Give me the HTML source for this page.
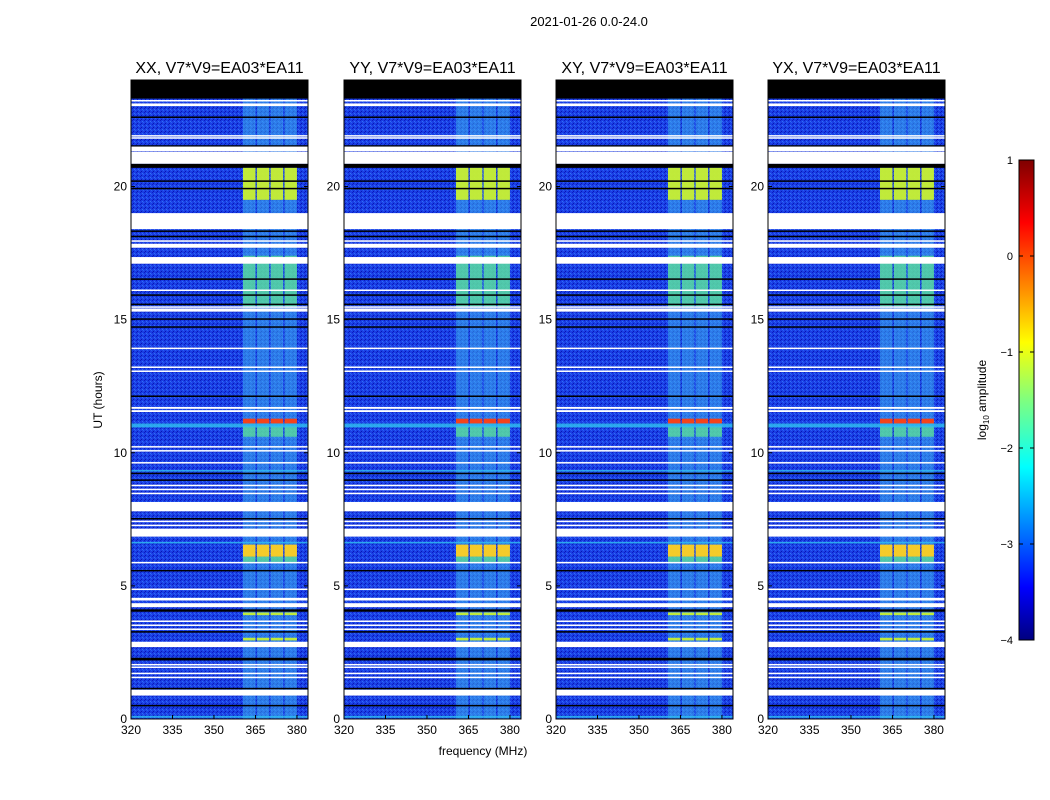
<!DOCTYPE html>
<html><head><meta charset="utf-8"><style>
body{margin:0;background:#fff;}
svg{display:block;font-family:"Liberation Sans",sans-serif;}
</style></head><body>
<svg id="fig" width="1050" height="800" viewBox="0 0 1050 800" xmlns="http://www.w3.org/2000/svg">
<defs>
<linearGradient id="jet" x1="0" y1="1" x2="0" y2="0">
<stop offset="0" stop-color="#00007f"/><stop offset="0.11" stop-color="#0000ff"/>
<stop offset="0.36" stop-color="#00ffff"/><stop offset="0.5" stop-color="#7fff7f"/>
<stop offset="0.62" stop-color="#ffff00"/><stop offset="0.87" stop-color="#ff0000"/>
<stop offset="1" stop-color="#7f0000"/></linearGradient>
<pattern id="dots" width="4" height="4" patternUnits="userSpaceOnUse">
<rect x="0" y="0" width="1" height="1" fill="#0a20c0"/><rect x="2" y="1" width="1" height="1" fill="#3070f0"/>
<rect x="1" y="3" width="1" height="1" fill="#0818b0"/><rect x="3" y="2" width="1" height="1" fill="#2860f0"/>
</pattern>
</defs>
<text x="589" y="26" text-anchor="middle" font-size="13">2021-01-26 0.0-24.0</text>
<text x="483" y="755" text-anchor="middle" font-size="12">frequency (MHz)</text>
<text transform="translate(102,400) rotate(-90)" text-anchor="middle" font-size="12">UT (hours)</text>
<g id="panels"></g>
<g>
<rect x="1019" y="160" width="15" height="480" fill="url(#jet)" stroke="#000" stroke-width="1"/>
<g id="cbticks"></g>
<text transform="translate(986,400) rotate(-90)" text-anchor="middle" font-size="12">log<tspan font-size="8" dy="3">10</tspan><tspan dy="-3"> amplitude</tspan></text>
</g>
</svg>
<script>
const titles=["XX, V7*V9=EA03*EA11","YY, V7*V9=EA03*EA11","XY, V7*V9=EA03*EA11","YX, V7*V9=EA03*EA11"];
const xTicks=[320,335,350,365,380];
const yTicks=[0,5,10,15,20];
const cbTicks=[1,0,-1,-2,-3,-4];
const channels=[[360.5,365],[365.5,370],[370.5,375],[375.5,380]];
// rows: [startHour, endHour, type]
const rows=[
[23.3,24,"k"],[23.02,23.12,"w"],[23.2,23.25,"w"],[22.58,22.63,"k"],[21.88,21.93,"w"],[21.82,21.85,"w"],
[21.5,21.55,"k"],[21.32,21.5,"w"],[20.85,21.3,"w"],[20.7,20.85,"k"],
[19.5,20.7,"y"],[20.18,20.23,"k"],[19.9,19.95,"k"],
[18.4,19.0,"w"],[18.3,18.35,"k"],[18.1,18.15,"k"],[17.95,17.98,"w"],[17.7,17.85,"w"],
[15.5,17.4,"g"],[17.1,17.35,"w"],[16.5,16.55,"k"],[16.1,16.13,"w"],[15.9,15.95,"k"],[15.55,15.6,"k"],
[15.45,15.5,"w"],[15.3,15.42,"w"],[15.0,15.05,"k"],[14.7,14.75,"k"],[13.9,13.95,"w"],
[13.2,13.24,"w"],[13.05,13.09,"w"],[12.1,12.15,"k"],
[11.65,11.72,"w"],[11.53,11.6,"w"],[10.6,11.0,"g"],[11.1,11.28,"r"],[10.95,11.1,"c"],
[10.2,10.25,"w"],[10.05,10.1,"w"],[9.6,9.65,"w"],[9.3,9.35,"c"],[9.2,9.25,"k"],[8.95,9.0,"k"],
[8.75,8.8,"w"],[8.6,8.65,"w"],[8.45,8.5,"w"],[7.8,8.15,"w"],[7.5,7.55,"k"],[7.4,7.45,"w"],[7.25,7.3,"w"],
[6.85,7.15,"w"],[6.6,6.65,"c"],[5.9,6.1,"g"],[6.1,6.55,"o"],[5.85,5.9,"w"],[5.55,5.6,"k"],[4.85,4.9,"w"],
[4.45,4.55,"w"],[4.2,4.35,"w"],[4.03,4.12,"k"],[3.9,4.0,"y"],[3.65,3.7,"w"],[3.5,3.55,"w"],[3.35,3.4,"w"],
[3.25,3.3,"k"],[2.95,3.05,"y"],[2.7,2.9,"w"],[2.2,2.3,"k"],[2.03,2.07,"w"],[1.93,1.97,"w"],
[1.7,1.74,"w"],[1.55,1.59,"w"],[1.12,1.17,"k"],[0.88,1.1,"w"],[0.48,0.53,"k"],[0.05,0.12,"c"]
];
const NS="http://www.w3.org/2000/svg";
const lefts=[131,344,556,768], PW=177, TOP=80, BOT=719;
function mk(tag,attrs,parent){const e=document.createElementNS(NS,tag);for(const k in attrs)e.setAttribute(k,attrs[k]);parent.appendChild(e);return e;}
const root=document.getElementById('panels');
const colors={w:"#ffffff",k:"#000000",y:"#c8f030",g:"#60e890",r:"#ff4010",o:"#ffd020",c:"#30c0f0"};
lefts.forEach((L,pi)=>{
  const xs=f=>L+(f-320)*(PW/(384-320));
  const ys=h=>BOT-(h/24)*(BOT-TOP);
  const g=mk('g',{},root);
  
  
  mk('rect',{x:L,y:TOP,width:PW,height:BOT-TOP,fill:"#1a3ee6"},g);
  mk('rect',{x:L,y:TOP,width:PW,height:BOT-TOP,fill:"url(#dots)"},g);
  channels.forEach(c=>{mk('rect',{x:xs(c[0]),y:TOP,width:xs(c[1])-xs(c[0]),height:BOT-TOP,fill:"#40b8f0",opacity:0.5},g);});
  rows.forEach(r=>{
    const y0=ys(r[1]),h=Math.max(ys(r[0])-y0,1.5),t=r[2];
    if(t==="w"||t==="k"){const e=mk('rect',{x:L,y:y0,width:PW,height:h,fill:colors[t]},g);
      }
    else if(t==="c"){const e=mk('rect',{x:L,y:y0,width:PW,height:h,fill:colors.c,opacity:0.8},g);
      }
    else{channels.forEach(c=>{const e=mk('rect',{x:xs(c[0]),y:y0,width:xs(c[1])-xs(c[0]),height:h,fill:colors[t],opacity:t==="g"?0.7:0.95},g);
      });}
  });
  mk('rect',{x:L,y:TOP,width:PW,height:BOT-TOP,fill:"none",stroke:"#000","stroke-width":1},g);
  const t=mk('text',{x:L+PW/2,y:TOP-7,"text-anchor":"middle","font-size":16},g);
  t.textContent=titles[pi];
  xTicks.forEach(v=>{const x=xs(v);mk('line',{x1:x,x2:x,y1:BOT,y2:BOT-4,stroke:"#000"},g);mk('line',{x1:x,x2:x,y1:TOP,y2:TOP+4,stroke:"#000"},g);
    const tx=mk('text',{x:x,y:BOT+15,"text-anchor":"middle","font-size":12},g);tx.textContent=v;
    });
  yTicks.forEach(v=>{const y=ys(v);mk('line',{x1:L,x2:L+4,y1:y,y2:y,stroke:"#000"},g);mk('line',{x1:L+PW,x2:L+PW-4,y1:y,y2:y,stroke:"#000"},g);
    const ty=mk('text',{x:L-4,y:y+4,"text-anchor":"end","font-size":12},g);ty.textContent=v;
    });
});
const cb=document.getElementById('cbticks');
cbTicks.forEach(v=>{const y=160+(1-v)*96;mk('line',{x1:1019,x2:1023,y1:y,y2:y,stroke:"#000"},cb);mk('line',{x1:1030,x2:1034,y1:y,y2:y,stroke:"#000"},cb);
  const t=mk('text',{x:1013,y:y+4,"text-anchor":"end","font-size":11},cb);t.textContent=v<0?"\u2212"+(-v):v;
  });
</script>
</body></html>
